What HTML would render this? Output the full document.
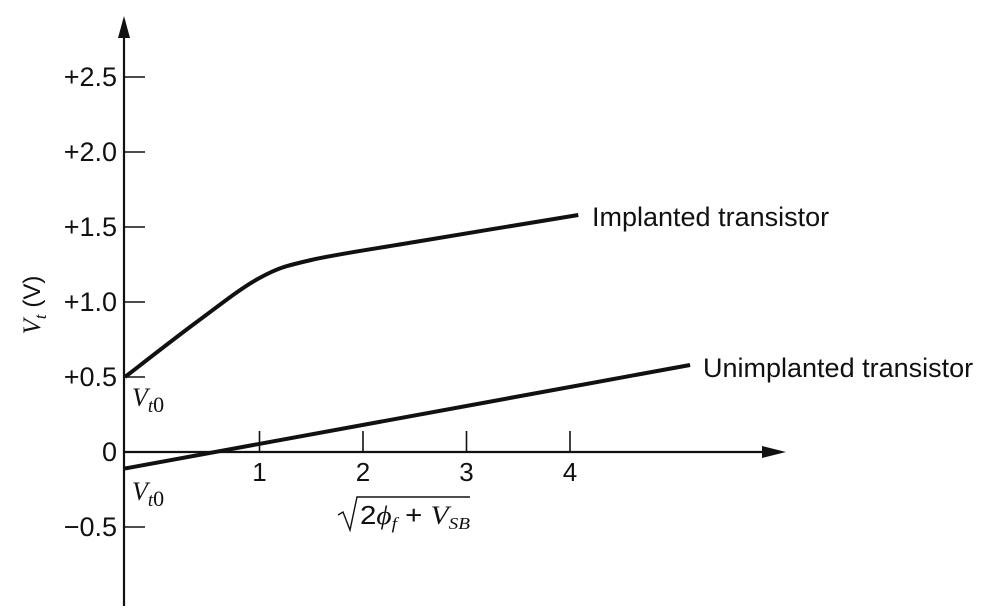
<!DOCTYPE html>
<html><head><meta charset="utf-8"><style>
html,body{margin:0;padding:0;background:#fff;}
svg text{font-family:"Liberation Sans",sans-serif;fill:#111;}
.it{font-family:"Liberation Serif",serif;font-style:italic;}
</style></head><body>
<svg width="991" height="606" viewBox="0 0 991 606" id="chart">
<line x1="124" y1="606" x2="124" y2="20" stroke="#111" stroke-width="2.2"/>
<path d="M118,38 L124,16 L130,38 z" fill="#111"/>
<line x1="124" y1="452" x2="770" y2="452" stroke="#111" stroke-width="2.2"/>
<path d="M762,446 L786,452 L762,458 z" fill="#111"/>
<g id="yticks"></g><g id="xticks"></g><g id="series"></g>
<text transform="translate(40,305) rotate(-90)" text-anchor="middle" font-size="24"><tspan class="it" font-size="25">V</tspan><tspan class="it" font-size="17" dy="6">t</tspan><tspan dy="-6"> (V)</tspan></text>
<text x="132" y="406" font-size="26" class="it">V<tspan font-size="19" dy="6">t</tspan><tspan font-size="22" font-style="normal">0</tspan></text>
<text x="132" y="500" font-size="26" class="it">V<tspan font-size="19" dy="6">t</tspan><tspan font-size="22" font-style="normal">0</tspan></text>
<g>
<path d="M338,515 L343,512 L350,530 L357,497 L470,497" fill="none" stroke="#111" stroke-width="1.4"/>
<text x="360" y="524" font-size="26" textLength="110" lengthAdjust="spacingAndGlyphs">2<tspan class="it">ϕ</tspan><tspan class="it" font-size="17" dy="5">f</tspan><tspan dy="-5"> + </tspan><tspan class="it">V</tspan><tspan class="it" font-size="17" dy="5">SB</tspan></text>
</g>
<text x="592" y="226" font-size="27">Implanted transistor</text>
<text x="703" y="377" font-size="27">Unimplanted transistor</text>
</svg>
<script>
const yTicks=[2.5,2.0,1.5,1.0,0.5,0,-0.5];
const yTickLabels=["+2.5","+2.0","+1.5","+1.0","+0.5","0","\u22120.5"];
const xTicks=[1,2,3,4];
const xTickLabels=["1","2","3","4"];
const implX=[-0.3,0.4,1.0,1.5,2.5,4.08];
const implY=[0.5,0.87,1.16,1.28,1.40,1.58];
const unimpX=[-0.3,5.16];
const unimpY=[-0.11,0.58];
const X=v=>156+v*103.5;
const Y=v=>452-v*150;
const NS="http://www.w3.org/2000/svg";
const yt=document.getElementById('yticks');
yTicks.forEach((v,i)=>{
 if(v!==0){const l=document.createElementNS(NS,'line');
 l.setAttribute('x1',124);l.setAttribute('x2',145);l.setAttribute('y1',Y(v));l.setAttribute('y2',Y(v));
 l.setAttribute('stroke','#111');l.setAttribute('stroke-width','1.6');
 
 
 yt.appendChild(l);}
 const t=document.createElementNS(NS,'text');
 t.setAttribute('x',117);t.setAttribute('y',Y(v)+9);t.setAttribute('text-anchor','end');t.setAttribute('font-size','27');
 t.textContent=yTickLabels[i];
 
 
 yt.appendChild(t);
});
const xt=document.getElementById('xticks');
xTicks.forEach((v,i)=>{
 const l=document.createElementNS(NS,'line');
 l.setAttribute('x1',X(v));l.setAttribute('x2',X(v));l.setAttribute('y1',431);l.setAttribute('y2',452);
 l.setAttribute('stroke','#111');l.setAttribute('stroke-width','1.6');
 
 
 xt.appendChild(l);
 const t=document.createElementNS(NS,'text');
 t.setAttribute('x',X(v));t.setAttribute('y',481);t.setAttribute('text-anchor','middle');t.setAttribute('font-size','26');
 t.textContent=xTickLabels[i];
 
 
 xt.appendChild(t);
});
function curve(xs,ys){
 const p=xs.map((x,i)=>[X(x),Y(ys[i])]);
 if(p.length<3)return 'M'+p.map(q=>q.join(',')).join(' L');
 let d='M'+p[0].join(',');
 for(let i=0;i<p.length-1;i++){
  const p0=p[i-1]||p[i],p1=p[i],p2=p[i+1],p3=p[i+2]||p2;
  d+=` C${p1[0]+(p2[0]-p0[0])/6},${p1[1]+(p2[1]-p0[1])/6} ${p2[0]-(p3[0]-p1[0])/6},${p2[1]-(p3[1]-p1[1])/6} ${p2[0]},${p2[1]}`;
 }
 return d;
}
const s=document.getElementById('series');
[[implX,implY,'implanted-curve'],[unimpX,unimpY,'unimplanted-line']].forEach(([xs,ys,n])=>{
 const p=document.createElementNS(NS,'path');
 p.setAttribute('d',curve(xs,ys));p.setAttribute('fill','none');p.setAttribute('stroke','#111');
 p.setAttribute('stroke-width','4');p.setAttribute('stroke-linecap','butt');
 
 
 s.appendChild(p);
});
</script>
</body></html>
